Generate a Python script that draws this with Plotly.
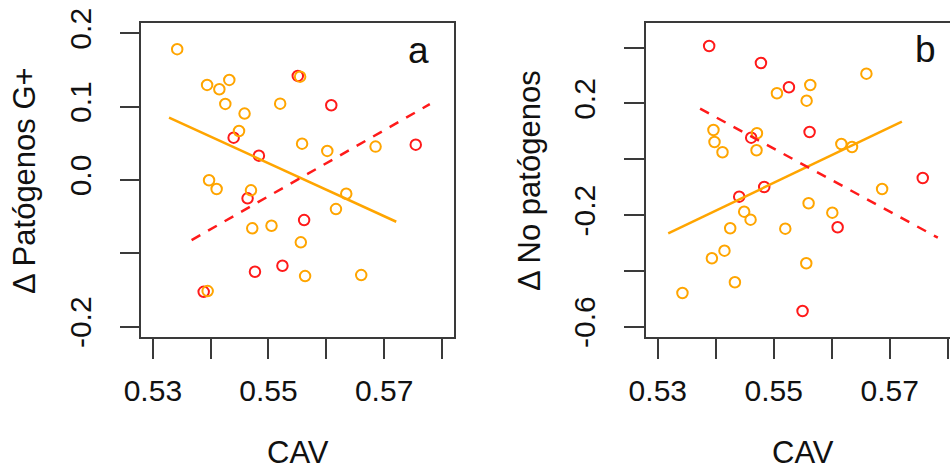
import plotly.graph_objects as go

# ---------------- data ----------------
# Panel a: delta Patogenos G+ vs CAV
cav_orange_a = [0.53421, 0.53938, 0.54150, 0.54322, 0.54253, 0.54586, 0.55202, 0.55547,
                0.54490, 0.55581, 0.56017, 0.56852, 0.53972, 0.54103, 0.54697, 0.56345,
                0.56167, 0.54719, 0.55052, 0.55559, 0.55633, 0.56604, 0.53948]
gpos_orange = [0.1783, 0.1296, 0.1237, 0.1364, 0.1037, 0.0905, 0.1041, 0.1409,
               0.0668, 0.0495, 0.0396, 0.0455, -0.0004, -0.0123, -0.0141, -0.0187,
               -0.0396, -0.0659, -0.0623, -0.0850, -0.1310, -0.1296, -0.1514]
cav_red_a = [0.55507, 0.56086, 0.54397, 0.54834, 0.54638, 0.55616, 0.57547, 0.54766,
             0.55241, 0.53879]
gpos_red = [0.1419, 0.1019, 0.0577, 0.0332, -0.0250, -0.0546, 0.0482, -0.1251,
            -0.1169, -0.1524]

# Panel b: delta No patogenos vs CAV
cav_orange_b = [0.56598, 0.55630, 0.55055, 0.55567, 0.53960, 0.54710, 0.53978, 0.54116,
                0.54703, 0.56166, 0.56350, 0.56869, 0.55601, 0.56010, 0.54490, 0.54600,
                0.54249, 0.55199, 0.54150, 0.53933, 0.55561, 0.54330, 0.53425]
np_orange = [0.3068, 0.2663, 0.2366, 0.2100, 0.1050, 0.0932, 0.0620, 0.0251,
             0.0323, 0.0548, 0.0441, -0.1065, -0.1577, -0.1914, -0.1878, -0.2165,
             -0.2473, -0.2487, -0.3276, -0.3548, -0.3728, -0.4409, -0.4792]
cav_red_b = [0.53886, 0.54779, 0.55262, 0.55618, 0.54611, 0.54836, 0.54404, 0.57570,
             0.56102, 0.55497]
np_red = [0.4061, 0.3452, 0.2581, 0.0978, 0.0774, -0.0993, -0.1340, -0.0670,
          -0.2437, -0.5437]

# Fitted regression lines (end points)
fit_orange_a_x = [0.5328, 0.5721]
fit_orange_a_y = [0.0850, -0.0569]
fit_red_a_x = [0.5367, 0.5779]
fit_red_a_y = [-0.0819, 0.1033]
fit_orange_b_x = [0.5318, 0.5721]
fit_orange_b_y = [-0.2652, 0.1348]
fit_red_b_x = [0.5373, 0.5783]
fit_red_b_y = [0.1814, -0.2810]

# Tick labels
x_tickvals = [0.53, 0.54, 0.55, 0.56, 0.57, 0.58]
x_ticktext = ["0.53", "", "0.55", "", "0.57", ""]
ya_tickvals = [-0.2, -0.1, 0.0, 0.1, 0.2]
ya_ticktext = ["-0.2", "", "0.0", "0.1", "0.2"]
yb_tickvals = [-0.6, -0.4, -0.2, 0.0, 0.2, 0.4]
yb_ticktext = ["-0.6", "", "-0.2", "", "0.2", ""]

# ---------------- styles ----------------
W, H = 950, 468
ORANGE = "#FFA500"
RED = "#FF1A1A"
FONT = "Liberation Sans"
AXC = "#3a3a3a"

fig = go.Figure()

def add_panel(xa, ya, xo, yo, xr, yr, fox, foy, frx, fry):
    fig.add_trace(go.Scatter(x=xr, y=yr, mode="markers", xaxis=xa, yaxis=ya,
                             marker=dict(symbol="circle-open", size=10.5, color=RED,
                                         line=dict(width=2, color=RED)),
                             showlegend=False, hoverinfo="skip"))
    fig.add_trace(go.Scatter(x=xo, y=yo, mode="markers", xaxis=xa, yaxis=ya,
                             marker=dict(symbol="circle-open", size=10.5, color=ORANGE,
                                         line=dict(width=2, color=ORANGE)),
                             showlegend=False, hoverinfo="skip"))
    fig.add_trace(go.Scatter(x=fox, y=foy, mode="lines", xaxis=xa, yaxis=ya,
                             line=dict(color=ORANGE, width=2.5),
                             showlegend=False, hoverinfo="skip"))
    fig.add_trace(go.Scatter(x=frx, y=fry, mode="lines", xaxis=xa, yaxis=ya,
                             line=dict(color=RED, width=2.5, dash="10px,9px"),
                             showlegend=False, hoverinfo="skip"))

add_panel("x", "y", cav_orange_a, gpos_orange, cav_red_a, gpos_red,
          fit_orange_a_x, fit_orange_a_y, fit_red_a_x, fit_red_a_y)
add_panel("x2", "y2", cav_orange_b, np_orange, cav_red_b, np_red,
          fit_orange_b_x, fit_orange_b_y, fit_red_b_x, fit_red_b_y)

ybot = (H - 337) / H
ytop = (H - 23) / H

axis_common = dict(showgrid=False, zeroline=False, showline=True, linecolor=AXC,
                   linewidth=1.6, ticks="outside", ticklen=20, tickwidth=1.6,
                   tickcolor=AXC, automargin=False,
                   tickfont=dict(family=FONT, size=30, color="#111"))

fig.update_layout(
    width=W, height=H, margin=dict(l=0, r=0, t=0, b=0), autosize=False,
    paper_bgcolor="white", plot_bgcolor="white", template="none",
    xaxis=dict(domain=[141.3 / W, 453.5 / W], range=[0.528, 0.582], mirror=True,
               tickvals=x_tickvals, ticktext=x_ticktext, anchor="y",
               ticklabelstandoff=6, **axis_common),
    yaxis=dict(domain=[ybot, ytop], range=[-0.214, 0.214], mirror=True,
               tickvals=ya_tickvals, ticktext=ya_ticktext, anchor="x",
               tickangle=-90, ticklabelstandoff=17, **axis_common),
    xaxis2=dict(domain=[646.2 / W, 1.0], range=[0.528, 0.5804], mirror=True,
                tickvals=x_tickvals, ticktext=x_ticktext, anchor="y2",
                ticklabelstandoff=6, **axis_common),
    yaxis2=dict(domain=[ybot, ytop], range=[-0.637, 0.4885], mirror=False,
                tickvals=yb_tickvals, ticktext=yb_ticktext, anchor="x2",
                tickangle=-90, ticklabelstandoff=17, **axis_common),
)

title_font = dict(family=FONT, size=31, color="#111")
annotations = [
    dict(text="CAV", x=297.5 / W, y=(H - 452) / H, xref="paper", yref="paper",
         showarrow=False, font=title_font, xanchor="center", yanchor="middle", borderpad=0),
    dict(text="CAV", x=802.5 / W, y=(H - 452) / H, xref="paper", yref="paper",
         showarrow=False, font=title_font, xanchor="center", yanchor="middle", borderpad=0),
    dict(text="Δ Patógenos G+", x=25 / W, y=(H - 181) / H, xref="paper", yref="paper",
         showarrow=False, font=title_font, textangle=-90, xanchor="center", yanchor="middle"),
    dict(text="Δ No patógenos", x=530 / W, y=(H - 181) / H, xref="paper", yref="paper",
         showarrow=False, font=title_font, textangle=-90, xanchor="center", yanchor="middle"),
    dict(text="a", x=418 / W, y=(H - 51) / H, xref="paper", yref="paper",
         showarrow=False, font=dict(family=FONT, size=37, color="#111"),
         xanchor="center", yanchor="middle"),
    dict(text="b", x=925 / W, y=(H - 50) / H, xref="paper", yref="paper",
         showarrow=False, font=dict(family=FONT, size=37, color="#111"),
         xanchor="center", yanchor="middle"),
]
fig.update_layout(annotations=annotations)

fig.write_html("out.html")
